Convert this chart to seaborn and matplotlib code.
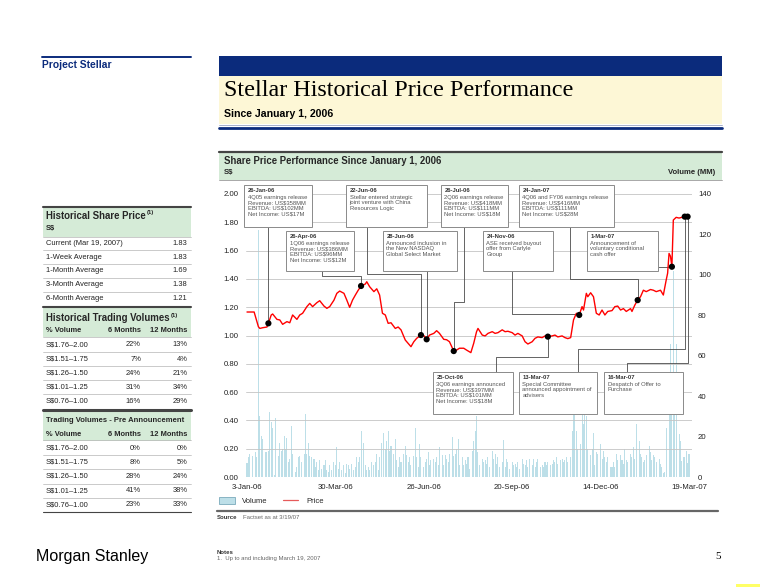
import numpy as np
import pandas as pd
import matplotlib

matplotlib.use('Agg')
import matplotlib.pyplot as plt
import seaborn as sns
from matplotlib.patches import Rectangle
from matplotlib.lines import Line2D

W, H = 760, 587

# ----------------------------------------------------------------------------------------------------------------------
# price (S$) by trading day since 3-Jan-06
price_day = [0, 5, 8, 9, 11, 14, 15, 17, 18, 21, 23, 25, 28, 30, 32, 35, 37, 39, 42, 44,
             46, 49, 51, 54, 56, 58, 61, 63, 65, 68, 70, 72, 74, 76, 78, 80, 83, 84, 86, 89,
             91, 93, 95, 97, 99, 101, 104, 106, 108, 111, 113, 115, 117, 119, 122, 124, 126, 128, 131, 133,
             135, 138, 140, 142, 145, 147, 149, 152, 154, 157, 159, 161, 162, 165, 167, 169, 172, 174, 176, 179,
             181, 183, 186, 188, 190, 193, 195, 197, 200, 202, 204, 207, 209, 211, 214, 216, 218, 221, 223, 225,
             227, 229, 231, 233, 235, 236, 238, 239, 241, 243, 245, 247, 249, 251, 253, 256, 258, 260, 262, 264,
             266, 269, 270, 272, 274, 276, 278, 280, 283, 285, 287, 290, 292, 294, 295, 296, 297, 298, 299, 301,
             303, 305, 307, 309, 310]
price = [1.166, 1.166, 1.062, 1.05, 1.055, 1.06, 1.086, 1.145, 1.152, 1.114,
         1.11, 1.079, 1.098, 1.09, 1.145, 1.114, 1.145, 1.157, 1.204, 1.227,
         1.204, 1.232, 1.246, 1.208, 1.192, 1.204, 1.25, 1.298, 1.314, 1.298,
         1.25, 1.199, 1.25, 1.286, 1.32, 1.35, 1.364, 1.38, 1.345, 1.31,
         1.33, 1.286, 1.157, 1.145, 1.086, 1.09, 1.05, 1.06, 1.04, 0.968,
         0.945, 0.921, 0.956, 0.98, 1.003, 1.0, 0.973, 1.003, 1.015, 1.034,
         1.015, 0.973, 0.97, 0.956, 0.89, 0.897, 0.91, 0.91, 0.897, 0.879,
         0.945, 1.027, 1.05, 1.003, 0.997, 1.015, 1.027, 1.015, 1.02, 1.04,
         1.027, 1.03, 1.02, 1.003, 1.015, 0.997, 0.956, 0.94, 0.956, 0.98,
         0.99, 0.985, 0.997, 0.992, 0.997, 1.003, 0.99, 0.997, 0.985, 0.978,
         0.985, 1.11, 1.157, 1.145, 1.204, 1.18, 1.298, 1.274, 1.302, 1.274,
         1.157, 1.145, 1.18, 1.145, 1.17, 1.176, 1.204, 1.208, 1.18, 1.19,
         1.17, 1.19, 1.17, 1.215, 1.25, 1.274, 1.32, 1.31, 1.325, 1.32,
         1.31, 1.32, 1.286, 1.392, 1.44, 1.58, 1.56, 1.486, 1.816, 1.835,
         1.83, 1.835, 1.84, 1.84, 1.84]

# volume (MM) by trading day
vol_day = [0, 1, 2, 4, 6, 7, 8, 9, 10, 11, 13, 14, 15, 16, 17, 18, 19, 20, 22, 23,
           24, 25, 26, 27, 28, 29, 30, 31, 32, 34, 35, 36, 37, 38, 40, 41, 42, 43, 44, 45,
           47, 48, 49, 50, 51, 52, 54, 55, 56, 57, 58, 59, 61, 62, 63, 64, 65, 66, 68, 69,
           70, 71, 72, 73, 75, 76, 77, 78, 79, 80, 82, 83, 84, 85, 86, 87, 89, 90, 91, 92,
           93, 94, 96, 97, 98, 99, 100, 101, 103, 104, 105, 106, 107, 108, 110, 111, 112, 113, 114, 115,
           117, 118, 119, 120, 121, 122, 124, 125, 126, 127, 128, 129, 131, 132, 133, 134, 135, 137, 138, 139,
           140, 141, 142, 144, 145, 146, 147, 148,
           149, 151, 152, 153, 154, 155, 156, 158, 159, 160, 161, 162, 163, 165, 166, 167, 168, 169, 170, 172,
           173, 174, 175, 176, 177, 179, 180, 181, 182, 183, 184, 186, 187, 188, 189, 190, 191, 193, 194, 195,
           196, 197, 198, 200, 201, 202, 203, 204, 206, 207, 208, 209, 210, 211, 213, 214, 215, 216, 217, 218,
           220, 221, 222, 223, 224, 225, 227, 228, 229, 230, 231, 232, 234, 235, 236, 237, 238, 239, 241, 242,
           243, 244, 245, 246, 248, 249, 250, 251, 252, 253, 255, 256, 257, 258, 259, 260, 262, 263, 264, 265,
           266, 267, 269, 270, 271, 272, 273, 275, 276, 277, 278, 279, 280, 282, 283, 284, 285, 286, 287, 289,
           290, 291, 292, 293, 294, 296, 297, 298, 299, 300, 301, 303, 304, 305, 306, 307, 308, 309, 310]
volume = [7, 10, 11.5, 10.5, 12.5, 10, 122, 30, 20.5, 19, 12.5, 12.5, 13, 32, 27, 24, 1, 29, 10.5, 17,
          13, 14, 20.5, 14, 19.5, 7.5, 9, 25, 11.5, 2.5, 5, 10, 10.5, 7.5, 11.5, 31, 11.5, 17, 10.5, 10,
          9, 5, 7.5, 3.5, 8.5, 4, 6, 8.5, 3.5, 2.5, 6, 3.5, 7.5, 6, 15, 4, 7.5, 3.5, 6, 2,
          6.5, 6, 4, 6.5, 3.5, 5, 10, 7.5, 10, 23, 17, 6, 3.5, 5, 3.5, 7.5, 6, 7.5, 11.5, 3.5,
          10, 17, 22, 14, 18, 23, 13, 15.5, 11.5, 19, 8.5, 5, 10, 7.5, 11.5, 15.5, 11, 7.5, 10, 6,
          10.5, 24, 10, 5, 16.5, 10, 5, 7.5, 9, 12.5, 6, 8.5, 9, 7.5, 10, 6, 15, 11, 6, 11,
          9, 7.5, 11.5, 20, 10.5, 11.5, 14, 19,
          6, 10, 6, 8.5, 6.5, 10, 4, 13, 18, 23, 30, 12.5, 6, 9, 7.5, 8.5, 6.5, 10, 5, 13,
          9, 11.5, 6.5, 10, 5, 7.5, 18.5, 5, 9, 7.5, 4, 7.5, 6, 6.5, 5, 7.5, 4, 9, 6.5, 6,
          8.5, 5, 9, 6, 9, 5, 7.5, 9, 5, 6, 5, 7.5, 6, 7.5, 6, 6.5, 8.5, 7.5, 10, 6.5,
          8.5, 9, 7.5, 8.5, 10, 7.5, 10, 23, 42, 38, 23, 14, 16.5, 46, 26, 40, 30, 14, 11, 14,
          22, 6, 12.5, 11.5, 16.5, 9, 13, 10, 7.5, 10, 5, 5, 7.5, 5, 11.5, 8.5, 11, 8.5, 6.5, 14,
          8.5, 7.5, 11.5, 10, 15, 9, 26, 18, 11.5, 10, 7.5, 8.5, 11, 15.5, 12.5, 8.5, 11, 10, 7.5, 9,
          6.5, 5, 2, 2.5, 24, 40, 66, 45, 102, 50, 66, 21.5, 18, 8, 10, 10, 13, 7, 11.5]

tick_day = [0, 62, 124, 186, 248, 310]
tick_label = ['3-Jan-06', '30-Mar-06', '26-Jun-06', '20-Sep-06', '14-Dec-06', '19-Mar-07']

# events
event_date = ['26-Jan-06', '26-Apr-06', '22-Jun-06', '28-Jun-06', '26-Jul-06', '25-Oct-06',
              '24-Nov-06', '24-Jan-07', '1-Mar-07', '13-Mar-07', '16-Mar-07']
event_day = [15, 80, 122, 126, 145, 211, 233, 274, 298, 307, 309]
event_text = ['4Q05 earnings release\nRevenue: US$358MM\nEBITDA: US$102MM\nNet Income: US$17M',
              '1Q06 earnings release\nRevenue: US$386MM\nEBITDA: US$96MM\nNet Income: US$12M',
              'Stellar entered strategic\njoint venture with China\nResources Logic',
              'Announced inclusion in\nthe New NASDAQ\nGlobal Select Market',
              '2Q06 earnings release\nRevenue: US$418MM\nEBITDA: US$111MM\nNet Income: US$18M',
              '3Q06 earnings announced\nRevenue: US$397MM\nEBITDA: US$101MM\nNet Income: US$18M',
              'ASE received buyout\noffer from Carlyle\nGroup',
              '4Q06 and FY06 earnings release\nRevenue: US$416MM\nEBITDA: US$111MM\nNet Income: US$28M',
              'Announcement of\nvoluntary conditional\ncash offer',
              'Special Committee\nannounced appointment of\nadvisers',
              'Despatch of Offer to\nPurchase']

# left tables
sp_label = ['Current (Mar 19, 2007)', '1-Week Average', '1-Month Average', '3-Month Average', '6-Month Average']
sp_value = ['1.83', '1.83', '1.69', '1.38', '1.21']
band_label = ['S$1.76–2.00', 'S$1.51–1.75', 'S$1.26–1.50', 'S$1.01–1.25', 'S$0.76–1.00']
hist_6m = ['22%', '7%', '24%', '31%', '16%']
hist_12m = ['13%', '4%', '21%', '34%', '29%']
pre_6m = ['0%', '8%', '28%', '41%', '23%']
pre_12m = ['0%', '5%', '24%', '38%', '33%']

# ----------------------------------------------------------------------------------------------------------------------
# layout (pixels from top-left) for the event call-out boxes and their leader lines
box_px = {'26-Jan-06': (244, 185, 312, 227), '22-Jun-06': (346, 185, 427, 227),
          '26-Jul-06': (441, 185, 508, 227), '24-Jan-07': (519, 185, 614, 227),
          '26-Apr-06': (286, 231, 354, 271), '28-Jun-06': (383, 231, 457, 271),
          '24-Nov-06': (483, 231, 553, 271), '1-Mar-07': (587, 231, 658, 271),
          '25-Oct-06': (433, 372, 513, 414), '13-Mar-07': (519, 372, 597, 414),
          '16-Mar-07': (604, 372, 683, 414)}
leader_px = {'26-Jan-06': [(None, 227)],
             '26-Apr-06': [(322, 271), (322, 276), (None, 276)],
             '22-Jun-06': [(367, 227), (367, 274), (None, 274)],
             '28-Jun-06': [(None, 271)],
             '26-Jul-06': [(464, 227), (464, 302), (None, 302)],
             '25-Oct-06': [(496, 372), (496, 357), (None, 357)],
             '24-Nov-06': [(512, 271), (512, 314), (None, 314)],
             '24-Jan-07': [(570, 227), (570, 279), (None, 279)],
             '1-Mar-07': [(658, None)],
             '13-Mar-07': [(578, 372), (578, 349), (None, 349)],
             '16-Mar-07': [(627, 372), (627, 363), (None, 363)]}

NAVY = '#0b2b7c'
GREEN = '#d5ebd7'
CREAM = '#fdf7d6'
DARK = '#444444'
VOL_COLOR = '#bddfe8'

sns.set_style('white')
plt.rcParams['font.family'] = ['Liberation Sans', 'DejaVu Sans']
plt.rcParams['text.parse_math'] = False

fig = plt.figure(figsize=(W / 100, H / 100), dpi=100)
fig.patch.set_facecolor('white')


def ftext(x, y, s, **kw):
    kw.setdefault('va', 'center')
    fig.text(x / W, 1 - y / H, s, **kw)


def fline(x0, x1, y, color, lw):
    fig.add_artist(Line2D([x0 / W, x1 / W], [1 - y / H, 1 - y / H], transform=fig.transFigure,
                          color=color, lw=lw))


def frect(x0, y0, x1, y1, color):
    fig.add_artist(Rectangle((x0 / W, 1 - y1 / H), (x1 - x0) / W, (y1 - y0) / H,
                             transform=fig.transFigure, facecolor=color, edgecolor='none', zorder=0))


# ---- header of the slide
fline(42, 191, 57, NAVY, 1.4)
ftext(42, 65.5, 'Project Stellar', fontsize=7.4, fontweight='bold', color=NAVY)
frect(219, 55.5, 722, 76, NAVY)
frect(219, 76, 722, 124, CREAM)
fline(219, 722, 124.6, '#9aa4c0', 0.6)
fline(219, 722, 128, NAVY, 2.0)
ftext(224, 91, 'Stellar Historical Price Performance', fontsize=17.4, family='Liberation Serif',
      color='black')
ftext(224, 114, 'Since January 1, 2006', fontsize=7.6, fontweight='bold', color='black')

# ---- chart panel header
fline(219, 722, 151.7, DARK, 1.6)
frect(219, 152.5, 722, 179.5, GREEN)
fline(219, 722, 180, '#9a9a9a', 0.6)
ftext(224, 160.7, 'Share Price Performance Since January 1, 2006', fontsize=6.9, fontweight='bold')
ftext(224, 172.3, 'S$', fontsize=5.6, fontweight='bold')
ftext(715.7, 172.3, 'Volume (MM)', fontsize=5.6, fontweight='bold', ha='right')

# ---- left tables
TL, TR = 42.7, 190.7
ROWC = '#222222'
SEP = '#b5b5b5'

# historical share price
fline(TL, TR, 207.3, DARK, 1.5)
frect(TL, 208, TR, 236.7, GREEN)
ftext(46, 216, 'Historical Share Price', fontsize=6.9, fontweight='bold')
ftext(147, 213, '(1)', fontsize=4.2, fontweight='bold')
ftext(46, 228.3, 'S$', fontsize=5.4, fontweight='bold')
fline(TL, TR, 236.7, SEP, 0.5)
row_y = [243.3, 257.3, 271, 285, 299]
for i, (lab, val) in enumerate(zip(sp_label, sp_value)):
    ftext(46, row_y[i], lab, fontsize=5.4, color=ROWC)
    ftext(187.3, row_y[i], val, fontsize=5.4, color=ROWC, ha='right')
    if i < 4:
        fline(TL, TR, row_y[i] + 7, SEP, 0.5)

# historical trading volumes
fline(TL, TR, 306.7, DARK, 1.5)
frect(TL, 307.5, TR, 337, GREEN)
ftext(46, 318.3, 'Historical Trading Volumes', fontsize=6.9, fontweight='bold')
ftext(170.5, 315, '(1)', fontsize=4.2, fontweight='bold')
for y0, t6, t12, title, tsize, ty in [(331, hist_6m, hist_12m, None, None, None),
                                      (434.3, pre_6m, pre_12m, 'Trading Volumes - Pre Announcement', 5.5, 421)]:
    if title:
        fline(TL, TR, 409.8, DARK, 2.2)
        frect(TL, 411.5, TR, 440.7, GREEN)
        ftext(46, ty, title, fontsize=tsize, fontweight='bold')
    ftext(46, y0, '% Volume', fontsize=5.4, fontweight='bold')
    ftext(141, y0, '6 Months', fontsize=5.4, fontweight='bold', ha='right')
    ftext(187.3, y0, '12 Months', fontsize=5.4, fontweight='bold', ha='right')
    fline(TL, TR, y0 + 6, SEP, 0.5)
    for i in range(5):
        ry = y0 + 14 + i * 14.1
        ftext(46, ry, band_label[i], fontsize=5.4, color=ROWC)
        ftext(141, ry, t6[i], fontsize=5.4, color=ROWC, ha='right')
        ftext(187.3, ry, t12[i], fontsize=5.4, color=ROWC, ha='right')
        if i < 4:
            fline(TL, TR, ry + 7, SEP, 0.5)
fline(TL, TR, 511.7, DARK, 0.8)

# ---- main chart
ax = fig.add_axes([246 / W, 110 / H, 446 / W, 283 / H])
ax2 = ax.twinx()
ax.set_zorder(ax2.get_zorder() + 1)
ax.patch.set_visible(False)

df_vol = pd.DataFrame({'day': vol_day, 'volume': volume})
sns.barplot(data=df_vol, x='day', y='volume', ax=ax2, native_scale=True, color=VOL_COLOR,
            saturation=1, width=0.72, errorbar=None, linewidth=0)

df_price = pd.DataFrame({'day': price_day, 'price': price})
sns.lineplot(data=df_price, x='day', y='price', ax=ax, color='#ff0000', linewidth=1.0, zorder=5)

df_ev = pd.DataFrame({'date': event_date, 'day': event_day, 'text': event_text})
df_ev = df_ev.merge(df_price, on='day')

ax.set_xlim(-0.7, 312.1)
ax.set_ylim(0, 2.0)
ax2.set_ylim(0, 140)
ax.set_yticks(np.arange(0, 2.01, 0.2))
ax.set_yticklabels(['%.2f' % v for v in np.arange(0, 2.01, 0.2)])
ax2.set_yticks(range(0, 141, 20))
ax.set_xticks(tick_day)
ax.set_xticklabels(tick_label)
for a in (ax, ax2):
    a.set_xlabel('')
    a.set_ylabel('')
    for s in a.spines.values():
        s.set_visible(False)
ax.grid(axis='y', color='#c4c4c4', lw=0.6)
ax.grid(axis='x', visible=False)
ax.tick_params(axis='y', length=0, pad=5.5, labelsize=5.6, labelcolor='#222222')
ax.tick_params(axis='x', length=0, pad=5, labelsize=5.6, labelcolor='#222222')
ax2.tick_params(axis='y', length=0, pad=4.3, labelsize=5.6, labelcolor='#222222')

# call-out boxes and leader lines (pixel layout converted to data coords)
inv = ax.transData.inverted()


def px2data(x, y):
    return inv.transform((x, H - y))


for _, ev in df_ev.iterrows():
    dx, dy = ax.transData.transform((ev['day'], ev['price']))
    dot = (dx, H - dy)
    pts = []
    for (x, y) in leader_px[ev['date']]:
        pts.append((dot[0] if x is None else x, dot[1] if y is None else y))
    pts.append(dot)
    xy = np.array([px2data(x, y) for x, y in pts])
    ax.plot(xy[:, 0], xy[:, 1], color='#4a4a4a', lw=0.6, clip_on=False, zorder=3)

    x0, y0, x1, y1 = box_px[ev['date']]
    bx0, by1 = px2data(x0, y1)
    bx1, by0 = px2data(x1, y0)
    ax.add_patch(Rectangle((bx0, by1), bx1 - bx0, by0 - by1, facecolor='white', edgecolor='#8a8a8a',
                           lw=0.7, clip_on=False, zorder=4))
    tx, ty = px2data(x0 + 3.5, y0 + 3)
    ax.text(tx, ty, ev['date'], fontsize=4.2, fontweight='bold', color='#333333', va='top',
            clip_on=False, zorder=5)
    tx, ty = px2data(x0 + 3.5, y0 + 9.6)
    ax.text(tx, ty, ev['text'], fontsize=4.2, color='#555555', va='top', linespacing=1.15,
            clip_on=False, zorder=5)

sns.scatterplot(data=df_ev, x='day', y='price', ax=ax, color='black', s=20, edgecolor='none', zorder=7)
ax.set_xlabel('')
ax.set_ylabel('')

# legend
handles = [Rectangle((0, 0), 1, 1, facecolor=VOL_COLOR, edgecolor='#7aaabb', lw=0.6),
           Line2D([], [], color='#e65a5a', lw=0.9)]
fig.legend(handles, ['Volume', 'Price'], loc='center left', bbox_to_anchor=(219 / W, 1 - 501 / H),
           ncol=2, frameon=False, fontsize=5.5, handlelength=2.05, handleheight=1.0,
           handletextpad=1.0, columnspacing=1.95, borderpad=0, borderaxespad=0)

# ---- footer
fline(217, 718, 510.7, '#666666', 1.6)
ftext(217, 517.7, 'Source', fontsize=4.3, fontweight='bold', color='#333333')
ftext(243, 517.7, 'Factset as at 3/19/07', fontsize=4.3, color='#666666')
ftext(217, 552, 'Notes', fontsize=4.3, fontweight='bold', color='#333333')
ftext(217, 558.3, '1.  Up to and including March 19, 2007', fontsize=4.3, color='#666666')
ftext(36, 556, 'Morgan Stanley', fontsize=11.5, color='black')
ftext(715, 556.7, '5', fontsize=8, family='Liberation Serif', color='black')
frect(736, 584, 760, 587, '#ffff66')

fig.savefig('out.png', dpi=100, facecolor='white')
